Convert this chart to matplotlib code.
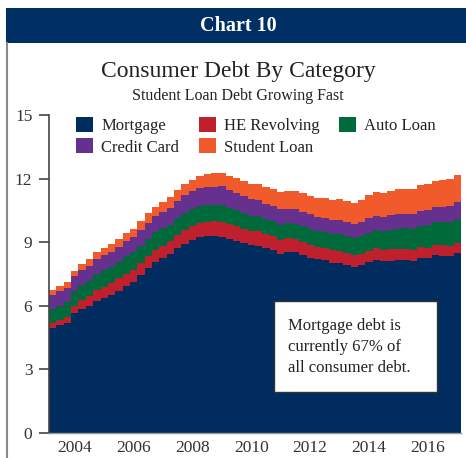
import numpy as np
import matplotlib
matplotlib.use("Agg")
import matplotlib.pyplot as plt
from matplotlib.patches import Rectangle

# Quarterly data 2003Q1 .. 2016Q4 (trillions of dollars)
quarters = [f"{y}Q{q}" for y in range(2003, 2017) for q in range(1, 5)]

mortgage = [4.94, 5.08, 5.18, 5.66,
            5.84, 5.97, 6.21, 6.36,
            6.51, 6.70, 6.91, 7.10,
            7.44, 7.76, 8.04, 8.23,
            8.42, 8.71, 8.93, 9.10,
            9.23, 9.27, 9.29, 9.26,
            9.14, 9.06, 8.94, 8.84,
            8.83, 8.70, 8.61, 8.45,
            8.54, 8.52, 8.40, 8.27,
            8.19, 8.15, 8.03, 8.03,
            7.93, 7.84, 7.90, 8.05,
            8.17, 8.10, 8.13, 8.17,
            8.17, 8.12, 8.26, 8.25,
            8.37, 8.36, 8.35, 8.48]
he_revolving = [0.24, 0.26, 0.29, 0.33,
                0.42, 0.47, 0.53, 0.54,
                0.57, 0.59, 0.60, 0.59,
                0.59, 0.60, 0.60, 0.60,
                0.61, 0.62, 0.63, 0.65,
                0.67, 0.68, 0.69, 0.71,
                0.71, 0.71, 0.70, 0.68,
                0.68, 0.67, 0.66, 0.66,
                0.64, 0.63, 0.62, 0.61,
                0.60, 0.59, 0.58, 0.56,
                0.55, 0.54, 0.54, 0.53,
                0.53, 0.53, 0.52, 0.51,
                0.51, 0.50, 0.49, 0.49,
                0.49, 0.48, 0.47, 0.46]
auto_loan = [0.64, 0.64, 0.69, 0.70,
             0.72, 0.74, 0.77, 0.77,
             0.75, 0.77, 0.83, 0.82,
             0.79, 0.80, 0.82, 0.82,
             0.80, 0.81, 0.82, 0.81,
             0.79, 0.80, 0.79, 0.79,
             0.76, 0.74, 0.74, 0.72,
             0.71, 0.71, 0.71, 0.71,
             0.71, 0.71, 0.72, 0.73,
             0.73, 0.75, 0.77, 0.78,
             0.79, 0.81, 0.84, 0.86,
             0.88, 0.90, 0.93, 0.96,
             0.97, 1.00, 1.02, 1.06,
             1.07, 1.10, 1.14, 1.16]
credit_card = [0.69, 0.69, 0.69, 0.70,
               0.68, 0.69, 0.70, 0.71,
               0.71, 0.71, 0.72, 0.74,
               0.73, 0.74, 0.75, 0.77,
               0.78, 0.80, 0.83, 0.84,
               0.84, 0.85, 0.85, 0.87,
               0.84, 0.82, 0.81, 0.80,
               0.76, 0.74, 0.73, 0.73,
               0.69, 0.69, 0.69, 0.70,
               0.68, 0.67, 0.67, 0.68,
               0.66, 0.67, 0.67, 0.68,
               0.66, 0.67, 0.68, 0.70,
               0.68, 0.70, 0.71, 0.73,
               0.71, 0.73, 0.75, 0.78]
student_loan = [0.24, 0.24, 0.25, 0.25,
                0.32, 0.32, 0.33, 0.35,
                0.36, 0.37, 0.38, 0.39,
                0.43, 0.45, 0.46, 0.48,
                0.51, 0.53, 0.55, 0.55,
                0.61, 0.61, 0.62, 0.64,
                0.66, 0.68, 0.70, 0.72,
                0.76, 0.76, 0.78, 0.81,
                0.84, 0.85, 0.87, 0.87,
                0.90, 0.91, 0.96, 0.97,
                0.99, 0.99, 1.03, 1.08,
                1.11, 1.12, 1.13, 1.16,
                1.19, 1.19, 1.20, 1.23,
                1.26, 1.26, 1.28, 1.31]

series_names = ["Mortgage", "HE Revolving", "Auto Loan", "Credit Card", "Student Loan"]
series = [mortgage, he_revolving, auto_loan, credit_card, student_loan]
colors = ["#002C5F", "#C01F2E", "#006A3A", "#66308F", "#F15A2B"]

tick_years = [2004, 2006, 2008, 2010, 2012, 2014, 2016]
y_ticks = [0, 3, 6, 9, 12, 15]

serif = ["Liberation Serif", "DejaVu Serif"]
plt.rcParams["font.family"] = serif

W, H = 466, 458
fig = plt.figure(figsize=(W / 100, H / 100), dpi=100)
fig.patch.set_facecolor("white")

# Banner
fig.patches.append(Rectangle((6 / W, 1 - 43 / H), 1, 35 / H, transform=fig.transFigure,
                             facecolor="#003063", edgecolor="none", zorder=0))
fig.text(238 / W, 1 - 26 / H, "Chart 10", color="white", fontsize=14.5, fontweight="bold",
         ha="center", va="center")
# Left frame line
fig.lines.append(plt.Line2D([7 / W, 7 / W], [0, 1 - 43 / H], transform=fig.transFigure,
                            color="#8a8a8a", lw=1.5))

fig.text(238 / W, 1 - 72 / H, "Consumer Debt By Category", fontsize=17, color="#222222",
         ha="center", va="center")
fig.text(238 / W, 1 - 96 / H, "Student Loan Debt Growing Fast", fontsize=11.5, color="#222222",
         ha="center", va="center")

left, right, bottom, top = 49 / W, 461 / W, 1 - 432.7 / H, 1 - 115 / H
ax = fig.add_axes([left, bottom, right - left, top - bottom])

n = len(quarters)
edges = np.arange(n + 1) - 0.5
base = np.zeros(n)
handles = []
for name, vals, c in zip(series_names, series, colors):
    vals = np.asarray(vals)
    h = ax.stairs(base + vals, edges, baseline=base, fill=True, color=c, lw=0, label=name)
    handles.append(h)
    base = base + vals

ax.set_xlim(-0.5, n - 0.5)
ax.set_ylim(0, 15)
ax.set_yticks(y_ticks)
ax.set_yticklabels([str(v) for v in y_ticks])
xt = [quarters.index(f"{y - 1}Q4") for y in tick_years]
ax.set_xticks(xt)
ax.set_xticklabels([str(y) for y in tick_years])

for s in ["top", "right"]:
    ax.spines[s].set_visible(False)
ax.spines["left"].set_color("#444444")
ax.spines["left"].set_linewidth(1.2)
ax.spines["bottom"].set_color("#999999")
ax.spines["bottom"].set_linewidth(1.0)
ax.tick_params(axis="y", length=7, width=1.2, color="#444444", labelsize=12.5,
               labelcolor="#333333", pad=5)
ax.tick_params(axis="x", length=0, labelsize=12.5, labelcolor="#333333", pad=5)

order = [0, 3, 1, 4, 2]
leg = ax.legend([handles[i] for i in order], [series_names[i] for i in order],
                ncol=3, loc="upper left", bbox_to_anchor=(0.038, 1.03), frameon=False,
                fontsize=12, handlelength=1.0, handleheight=1.0, handletextpad=0.5,
                columnspacing=1.18, labelspacing=0.25, borderpad=0.2)
for t in leg.get_texts():
    t.set_color("#222222")

# Annotation box
bx0, bx1, by0, by1 = 274, 437, 300.7, 392
ax.add_patch(Rectangle(((bx0 - 49) / 412, (432.7 - by1) / (432.7 - 115)),
                       (bx1 - bx0) / 412, (by1 - by0) / (432.7 - 115),
                       transform=ax.transAxes, facecolor="white", edgecolor="#333333",
                       lw=1.0, zorder=5))
ax.text((288 - 49) / 412, (432.7 - 347) / (432.7 - 115),
        "Mortgage debt is\ncurrently 67% of\nall consumer debt.",
        transform=ax.transAxes, fontsize=12, color="#222222", ha="left", va="center",
        linespacing=1.45, zorder=6)

fig.savefig("out.png", dpi=100)
